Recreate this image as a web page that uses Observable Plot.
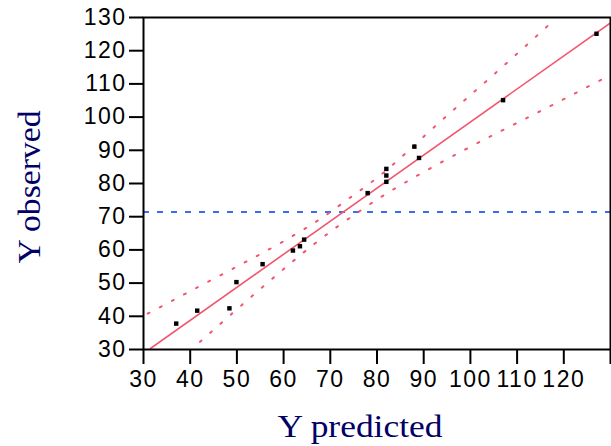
<!DOCTYPE html>
<html>
<head>
<meta charset="utf-8">
<script src="https://cdn.jsdelivr.net/npm/d3@7"></script>
<script src="https://cdn.jsdelivr.net/npm/@observablehq/plot@0.6"></script>
<style>
  html, body { margin: 0; padding: 0; background: #fff; }
  #chart svg { display: block; }
</style>
</head>
<body>
<div id="chart"></div>
<script>
// Observations: predicted vs observed
const predicted = [37.0, 41.5, 48.4, 49.9, 55.5, 62.0, 63.5, 64.4, 78.0, 82.0, 82.0, 82.0, 88.0, 89.0, 107.0, 127.0];
const observed  = [37.8, 41.7, 42.4, 50.3, 55.7, 59.8, 61.1, 63.1, 77.1, 84.4, 82.4, 80.5, 91.1, 87.7, 105.1, 125.1];

// Fitted line (end points)
const fitX = [31.5, 130];
const fitY = [30.3, 128.4];

// Upper confidence curve
const upperX = [30.9, 44.1, 57.3, 67.4, 74.5, 81.6, 90.3, 99.0, 107.8, 116.5];
const upperY = [40.8, 50.6, 60.5, 68.9, 76.0, 83.5, 94.5, 105.4, 116.3, 127.4];

// Lower confidence curve
const lowerX = [42.1, 48.7, 55.4, 62.1, 68.9, 76.3, 83.6, 93.8, 104.3, 115.0, 128.1];
const lowerY = [32.3, 40.5, 48.7, 56.7, 64.3, 71.7, 78.3, 86.4, 94.2, 101.8, 111.3];

// Mean of Y observed (horizontal reference)
const meanY = [71.4];

// Ticks
const xTicks = [30, 40, 50, 60, 70, 80, 90, 100, 110, 120, 130];
const xTickLabels = ["30", "40", "50", "60", "70", "80", "90", "100", "110", "120", ""];
const yTicks = [30, 40, 50, 60, 70, 80, 90, 100, 110, 120, 130];

const xLabel = "Y predicted";
const yLabel = "Y observed";

const points = predicted.map((p, i) => ({p, o: observed[i]}));
const fit = fitX.map((x, i) => ({x, y: fitY[i]}));
const upper = upperX.map((x, i) => ({x, y: upperY[i]}));
const lower = lowerX.map((x, i) => ({x, y: lowerY[i]}));

const red = "#f2566c";
const labelColor = "#000066";

const chart = Plot.plot({
  width: 611,
  height: 446,
  marginLeft: 143,
  marginRight: 1,
  marginTop: 17,
  marginBottom: 97,
  style: {fontFamily: "'Liberation Sans', Arial, sans-serif", fontSize: "23px", color: "#000", background: "#fff"},
  x: {domain: [30, 130], label: null},
  y: {domain: [30, 130], label: null},
  marks: [
    Plot.ruleY(meanY, {stroke: "#3a6cf4", strokeWidth: 2, strokeDasharray: "6,8"}),
    Plot.line(upper, {x: "x", y: "y", stroke: red, strokeWidth: 2, curve: "natural", strokeDasharray: "2,11.7", strokeLinecap: "round", clip: true}),
    Plot.line(lower, {x: "x", y: "y", stroke: red, strokeWidth: 2, curve: "natural", strokeDasharray: "2,11.7", strokeLinecap: "round", clip: true}),
    Plot.line(fit, {x: "x", y: "y", stroke: red, strokeWidth: 1.6, clip: true}),
    Plot.dot(points, {x: "p", y: "o", symbol: "square", r: 2.5, fill: "#000", stroke: null}),
    Plot.frame({stroke: "#000", strokeWidth: 2}),
    Plot.axisX({ticks: xTicks, tickFormat: (d) => xTickLabels[xTicks.indexOf(d)], tickSize: 15, tickPadding: 6, strokeWidth: 2, label: null, fontSize: 23}),
    Plot.axisY({ticks: yTicks, tickSize: 14, tickPadding: 3, strokeWidth: 2, label: null, fontSize: 23}),
    Plot.text([xLabel], {frameAnchor: "bottom", text: d => d, textAnchor: "middle", lineAnchor: "middle", dx: -17, dy: 77, fontSize: 32, fontFamily: "'Liberation Serif', 'Times New Roman', serif", fill: labelColor}),
    Plot.text([yLabel], {frameAnchor: "left", text: d => d, textAnchor: "middle", lineAnchor: "middle", rotate: -90, dx: -114, dy: 3.5, fontSize: 32, fontFamily: "'Liberation Serif', 'Times New Roman', serif", fill: labelColor})
  ]
});

// stretch labels/ticks to match the original glyph spacing
d3.select(chart).selectAll('g[aria-label="text"] text').each(function() {
  const t = this.textContent;
  if (t === xLabel) { this.setAttribute("textLength", 165); this.setAttribute("lengthAdjust", "spacingAndGlyphs"); }
  if (t === yLabel) { this.setAttribute("textLength", 153); this.setAttribute("lengthAdjust", "spacingAndGlyphs"); }
});
d3.select(chart).selectAll('g[aria-label="x-axis tick label"] text, g[aria-label="y-axis tick label"] text')
  .attr("letter-spacing", "1.5px");

document.getElementById("chart").appendChild(chart);
</script>
</body>
</html>
